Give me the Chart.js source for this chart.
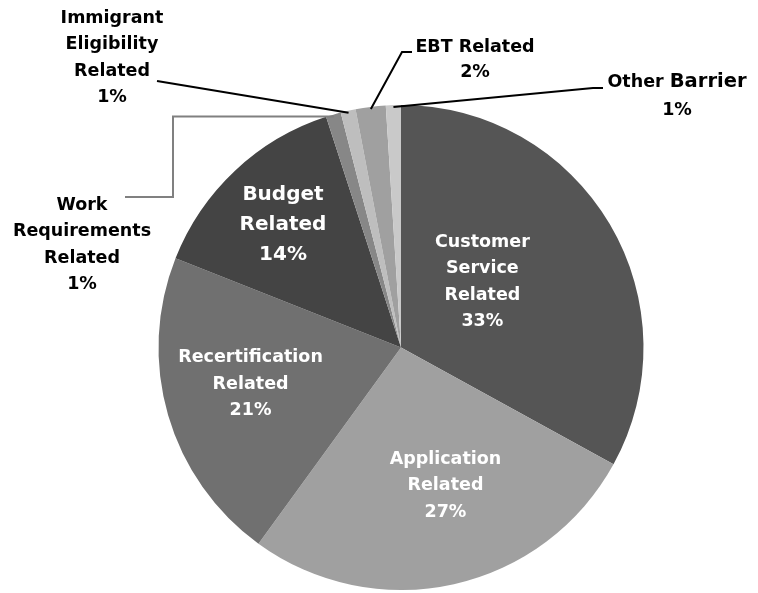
<!DOCTYPE html>
<html>
<head>
<meta charset="utf-8">
<script src="https://cdn.jsdelivr.net/npm/chart.js@4.4.1/dist/chart.umd.min.js"></script>
<style>
  html, body { margin: 0; padding: 0; background: #fff; }
  #wrap { width: 758px; height: 593px; }
</style>
</head>
<body>
<div id="wrap"><canvas id="barrierPie" width="758" height="593"></canvas></div>
<script>
const categories = [
  'Customer Service Related',
  'Application Related',
  'Recertification Related',
  'Budget Related',
  'Work Requirements Related',
  'Immigrant Eligibility Related',
  'EBT Related',
  'Other Barrier'
];
const shares = [33, 27, 21, 14, 1, 1, 2, 1];
const sliceColors = ['#555555', '#a0a0a0', '#707070', '#444444', '#878787', '#bebebe', '#a0a0a0', '#c9c9c9'];

// line breaks used when a category name is printed
const labelLines = [
  ['Customer', 'Service', 'Related'],
  ['Application', 'Related'],
  ['Recertification', 'Related'],
  ['Budget', 'Related'],
  ['Work', 'Requirements', 'Related'],
  ['Immigrant', 'Eligibility', 'Related'],
  ['EBT Related'],
  ['Other Barrier']
];

const FONT = '"DejaVu Sans", sans-serif';

// inside labels: shift from the arc's own centre point
// outside labels: block centre + leader line bends (null y = keep the start y)
const labelLayout = [
  { inside: true, dx: -23, dy: -4 },
  { inside: true, dx: 18, dy: 20 },
  { inside: true, dx: -34, dy: 3 },
  { inside: true, dx: -35, dy: -34, size: 20, lineHeight: 30 },
  { x: 82, y: 245, leader: [[173, null], [173, 197], [125, 197]], leaderColor: '#808080' },
  { x: 112, y: 58, leader: [[157, 81]] },
  { x: 475, y: 60, lineHeight: 25, leader: [[402, 52], [412, 52]] },
  { x: 677, y: 96, lineHeight: 28, tailSize: 19.5, leader: [[593, 88], [603, 88]] }
];

function drawLabelLine(ctx, text, x, y, size, tailSize, color) {
  ctx.fillStyle = color;
  if (!tailSize) {
    ctx.font = `bold ${size}px ${FONT}`;
    ctx.textAlign = 'center';
    ctx.fillText(text, x, y);
    return;
  }
  // last word set a little larger
  const cut = text.lastIndexOf(' ');
  const head = text.slice(0, cut + 1);
  const tail = text.slice(cut + 1);
  ctx.font = `bold ${size}px ${FONT}`;
  const wHead = ctx.measureText(head).width;
  ctx.font = `bold ${tailSize}px ${FONT}`;
  const wTail = ctx.measureText(tail).width;
  let left = x - (wHead + wTail) / 2;
  ctx.textAlign = 'left';
  ctx.font = `bold ${size}px ${FONT}`;
  ctx.fillText(head, left, y);
  ctx.font = `bold ${tailSize}px ${FONT}`;
  ctx.fillText(tail, left + wHead, y);
}

const sliceLabels = {
  id: 'sliceLabels',
  afterDatasetsDraw(chart) {
    const ctx = chart.ctx;
    const meta = chart.getDatasetMeta(0);
    meta.data.forEach((arc, i) => {
      const spec = labelLayout[i];
      const size = spec.size || 17.5;
      const lh = spec.lineHeight || 26.5;
      let cx, cy;
      ctx.save();
      if (spec.inside) {
        const p = arc.tooltipPosition();
        cx = p.x + spec.dx;
        cy = p.y + spec.dy;
      } else {
        const { x, y, startAngle, endAngle, outerRadius } =
          arc.getProps(['x', 'y', 'startAngle', 'endAngle', 'outerRadius']);
        const mid = (startAngle + endAngle) / 2;
        const sx = x + Math.cos(mid) * (outerRadius - 2);
        const sy = y + Math.sin(mid) * (outerRadius - 2);
        ctx.strokeStyle = spec.leaderColor || '#000';
        ctx.lineWidth = 2;
        ctx.beginPath();
        ctx.moveTo(sx, sy);
        spec.leader.forEach(([px, py]) => ctx.lineTo(px, py === null ? sy : py));
        ctx.stroke();
        cx = spec.x;
        cy = spec.y;
      }
      const lines = labelLines[i].concat(shares[i] + '%');
      const color = spec.inside ? '#ffffff' : '#000000';
      ctx.textBaseline = 'middle';
      const top = cy - (lines.length - 1) * lh / 2;
      lines.forEach((t, k) => {
        const tail = (k === 0 && spec.tailSize) ? spec.tailSize : null;
        drawLabelLine(ctx, t, cx, top + k * lh, size, tail, color);
      });
      ctx.restore();
    });
  }
};

new Chart(document.getElementById('barrierPie'), {
  type: 'pie',
  data: {
    labels: categories,
    datasets: [{
      data: shares,
      backgroundColor: sliceColors,
      borderWidth: 0
    }]
  },
  options: {
    responsive: false,
    animation: false,
    layout: { padding: { top: 105, bottom: 3, left: 44, right: 0 } },
    plugins: {
      legend: { display: false },
      tooltip: { enabled: false }
    }
  },
  plugins: [sliceLabels]
});
</script>
</body>
</html>
